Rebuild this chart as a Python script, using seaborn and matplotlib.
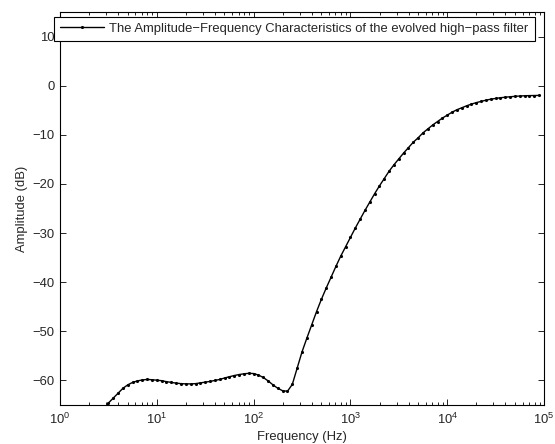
import matplotlib
matplotlib.use("Agg")
import matplotlib.pyplot as plt
import seaborn as sns
import pandas as pd
from matplotlib.ticker import LogLocator, NullFormatter

# Sampled frequencies (Hz) and read-off amplitudes (dB)
freq_hz = [2.818, 3.162, 3.548, 3.981, 4.467, 5.012, 5.623, 6.310, 7.079, 7.943, 8.913,
           10.0, 11.22, 12.59, 14.13, 15.85, 17.78, 19.95, 22.39, 25.12, 28.18,
           31.62, 35.48, 39.81, 44.67, 50.12, 56.23, 63.10, 70.79, 79.43, 89.13,
           100.0, 112.2, 125.9, 141.3, 158.5, 177.8, 199.5, 223.9, 251.2, 281.8,
           316.2, 354.8, 398.1, 446.7, 501.2, 562.3, 631.0, 707.9, 794.3, 891.3,
           1000.0, 1122.0, 1259.0, 1413.0, 1585.0, 1778.0, 1995.0, 2239.0, 2512.0, 2818.0,
           3162.0, 3548.0, 3981.0, 4467.0, 5012.0, 5623.0, 6310.0, 7079.0, 7943.0, 8913.0,
           10000.0, 11220.0, 12590.0, 14130.0, 15850.0, 17780.0, 19950.0, 22390.0, 25120.0, 28180.0,
           31620.0, 35480.0, 39810.0, 44670.0, 50120.0, 56230.0, 63100.0, 70790.0, 79430.0, 89130.0]
amp_db = [-66.0, -64.6, -63.6, -62.6, -61.6, -60.9, -60.4, -60.1, -59.9, -59.8, -59.85,
          -59.95, -60.05, -60.25, -60.4, -60.55, -60.65, -60.7, -60.7, -60.65, -60.5,
          -60.35, -60.2, -60.0, -59.8, -59.5, -59.25, -59.0, -58.8, -58.65, -58.55,
          -58.6, -58.9, -59.4, -60.1, -60.9, -61.6, -62.1, -62.2, -60.8, -57.5,
          -54.2, -51.4, -48.7, -46.0, -43.5, -41.2, -39.0, -36.8, -34.7, -32.8,
          -30.9, -29.0, -27.2, -25.4, -23.7, -22.0, -20.4, -18.9, -17.4, -16.1,
          -14.9, -13.7, -12.6, -11.5, -10.6, -9.6, -8.8, -8.0, -7.3, -6.6,
          -6.0, -5.4, -4.9, -4.5, -4.1, -3.75, -3.45, -3.2, -2.95, -2.75,
          -2.6, -2.45, -2.35, -2.25, -2.17, -2.1, -2.05, -2.02, -2.0, -1.98]
series_label = "The Amplitude\u2212Frequency Characteristics of the evolved high\u2212pass filter"
x_label = "Frequency (Hz)"
y_label = "Amplitude (dB)"
y_ticks = [-60, -50, -40, -30, -20, -10, 0, 10]

df = pd.DataFrame({"freq": freq_hz, "amp": amp_db, "series": series_label})

sns.set_style("ticks")
plt.rcParams["font.family"] = ["Liberation Sans", "DejaVu Sans"]
plt.rcParams["mathtext.fontset"] = "custom"
plt.rcParams["mathtext.rm"] = "Liberation Sans"
plt.rcParams["mathtext.it"] = "Liberation Sans:italic"

FS = 9.4

fig = plt.figure(figsize=(5.55, 4.44), dpi=100)
ax = fig.add_axes([60 / 555, 1 - 405 / 444, (544 - 60) / 555, (405 - 12) / 444])

sns.lineplot(data=df, x="freq", y="amp", hue="series", palette=["black"],
             marker=".", markersize=4.5, markeredgewidth=0, linewidth=1.0,
             estimator=None, sort=False, ax=ax)

ax.set_xscale("log")
ax.set_xlim(1, 1e5)
ax.set_ylim(-65, 15)
ax.set_yticks(y_ticks)
ax.xaxis.set_major_locator(LogLocator(base=10, numticks=10))
ax.xaxis.set_minor_locator(LogLocator(base=10, subs=range(2, 10), numticks=100))
ax.xaxis.set_minor_formatter(NullFormatter())

ax.set_xlabel(x_label, fontsize=FS, labelpad=3)
ax.set_ylabel(y_label, fontsize=FS, labelpad=3)
ax.tick_params(which="both", direction="in", top=True, right=True, labelsize=FS, color="black")
ax.tick_params(which="major", length=4, width=0.6)
ax.tick_params(which="minor", length=2, width=0.6)
ax.tick_params(axis="y", pad=4)
ax.tick_params(axis="x", pad=5)
for s in ax.spines.values():
    s.set_visible(True)
    s.set_color("black")
    s.set_linewidth(0.8)

leg = ax.legend(loc="upper left", bbox_to_anchor=(54 / 555, 1 - 17 / 444),
                bbox_transform=fig.transFigure, fontsize=FS, frameon=True,
                fancybox=False, borderpad=0.45, handlelength=3.4, handletextpad=0.4,
                borderaxespad=0)
leg.get_frame().set_edgecolor("black")
leg.get_frame().set_linewidth(0.8)
leg.get_frame().set_alpha(1)

fig.savefig("out.png", dpi=100)
